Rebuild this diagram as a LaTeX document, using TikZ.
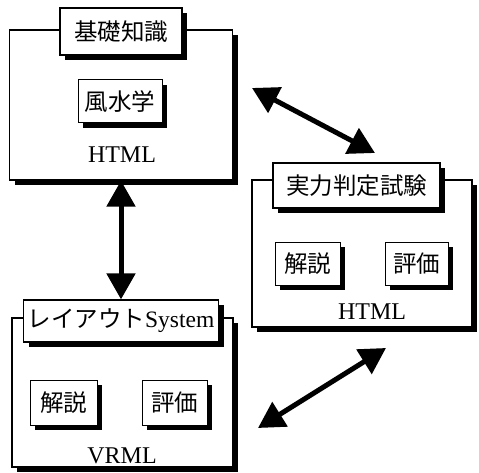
\documentclass[tikz,border=0pt]{standalone}
\usepackage{fontspec}
\setmainfont{Liberation Serif}
\newfontfamily\jp{Noto Sans CJK JP}
\usetikzlibrary{arrows.meta,shadows}

\begin{document}
\begin{tikzpicture}[x=1pt, y=-1pt,
panel/.style = {draw, line width=1.2pt, fill=white, inner sep=0pt,
    drop shadow={shadow xshift=5pt, shadow yshift=-5pt, fill=black, opacity=1}},
heading/.style = {panel, font=\fontsize{23.5}{25}\selectfont},
topic/.style = {heading, line width=1pt},
label/.style = {font=\fontsize{24}{26}\selectfont},
link/.style = {line width=5pt, {Triangle[length=26pt,width=28pt]}-{Triangle[length=26pt,width=28pt]}}]
\useasboundingbox (0,0) rectangle (479,473);
% outer frames
\node[panel, minimum width=223pt, minimum height=150pt] (basics) at (121,105) {};
\node[panel, minimum width=220pt, minimum height=147pt] (exam) at (362,253.5) {};
\node[panel, minimum width=221pt, minimum height=149pt] (layout) at (122.5,392.5) {};
% titles
\node[heading, minimum width=122pt, minimum height=47pt] (basicsT) at (121,31.5) {\jp 基礎知識};
\node[heading, minimum width=167pt, minimum height=45pt] (examT) at (356.5,185.5) {\jp 実力判定試験};
\node[heading, minimum width=195pt, minimum height=42pt] (layoutT) at (121,321) {{\jp レイアウト}System};
% contents
\node[topic, minimum width=84pt, minimum height=43pt] (fengshui) at (120,101.5) {\jp 風水学};
\node[topic, minimum width=65pt, minimum height=43pt] (examA) at (307.5,263.5) {\jp 解説};
\node[topic, minimum width=63pt, minimum height=43pt] (examB) at (416.5,263.5) {\jp 評価};
\node[topic, minimum width=67pt, minimum height=45pt] (layoutA) at (63.5,402.5) {\jp 解説};
\node[topic, minimum width=65pt, minimum height=45pt] (layoutB) at (174.5,402.5) {\jp 評価};
\node[label] (basicsL) at (122,155) {HTML};
\node[label] (examL) at (372,312) {HTML};
\node[label] (layoutL) at (122,456) {VRML};
% connectors
\coordinate (p1) at (252,88);
\coordinate (p2) at (375,153);
\coordinate (q1) at (258,428);
\coordinate (q2) at (386,348);
\draw[link] (basics.south) -- (layoutT.north);
\draw[link] (p1) -- (p2);
\draw[link] (q1) -- (q2);
\end{tikzpicture}
\end{document}
